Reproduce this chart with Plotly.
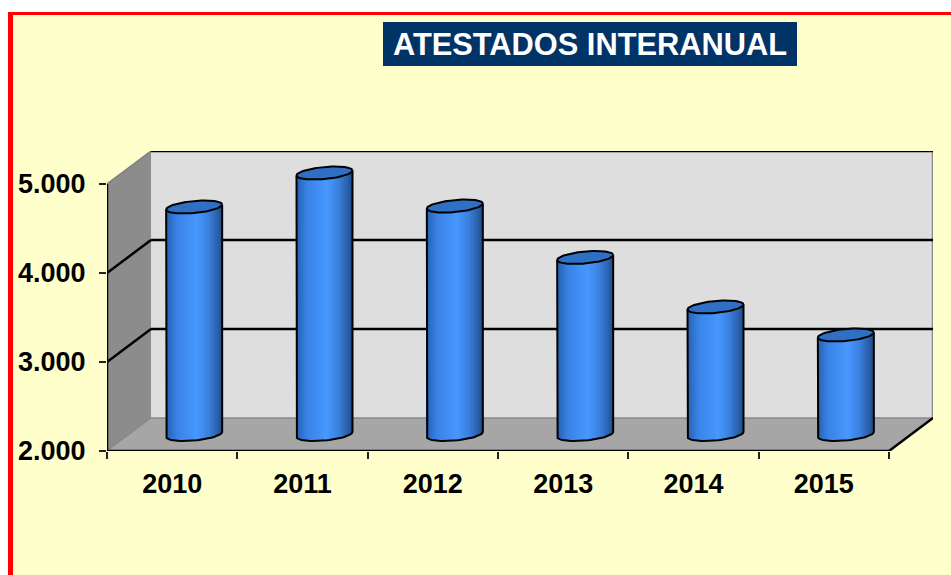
import numpy as np
import plotly.graph_objects as go

years = ["2010", "2011", "2012", "2013", "2014", "2015"]
values = [4556, 4938, 4567, 3989, 3433, 3118]
y_ticks = [2000, 3000, 4000, 5000]
y_labels = ["2.000", "3.000", "4.000", "5.000"]
title_text = "ATESTADOS INTERANUAL"

W, H = 951, 575
L, R, T, B = 107, 933, 151, 451          # plot box in page pixels
PX_X = 130.33                             # pixels per category
PX_Y = 89 / 1000                          # pixels per value unit
DX = 44 / PX_X                            # chart depth in category units
DY = 33 / PX_Y                            # chart depth in value units
Y0, Y1 = y_ticks[0], y_ticks[-1]
X0, X1 = -0.5, len(years) - 0.5
RW = 28 / PX_X                            # cylinder radius
RH = 6 / PX_Y                             # ellipse half height
TILT = 2.5 / PX_Y

def hexrgb(c):
    return [int(c[i:i + 2], 16) for i in (1, 3, 5)]

STOPS = [(-1, "#2560B0"), (-0.6, "#3A83E6"), (0.1, "#4798FF"),
         (0.5, "#3B82E0"), (0.85, "#2A60AA"), (1, "#1F4C8A")]

def shade(u):
    us = [s[0] for s in STOPS]
    rgb = [np.interp(u, us, [hexrgb(s[1])[k] for s in STOPS]) for k in range(3)]
    return "rgb(%d,%d,%d)" % tuple(rgb)

def px(x):
    return (x - L) / (R - L)

def py(y):
    return (B - y) / (B - T)

def poly(pts):
    return "M" + "L".join(f"{a},{b}" for a, b in pts) + "Z"

def seg(a, b, c, d, color="black", width=2.5):
    return dict(type="line", xref="x", yref="y", x0=a, y0=b, x1=c, y1=d,
                line=dict(color=color, width=width), layer="below")

def page_rect(x0, y0, x1, y1, color):
    return dict(type="rect", xref="paper", yref="paper", x0=px(x0), x1=px(x1),
                y0=py(y1), y1=py(y0), fillcolor=color, line=dict(width=0), layer="below")

shapes = [
    # background and frame
    page_rect(8, 12, W + 5, H + 5, "#FFFFCC"),
    page_rect(8, 12, 13, H + 5, "#FF0000"),
    page_rect(8, 12, W + 5, 15, "#FF0000"),
    # title box
    page_rect(383, 22, 797, 66, "#003366"),
    # back wall, left wall, floor
    dict(type="path", xref="x", yref="y", layer="below", fillcolor="#DEDEDE", line=dict(width=0),
         path=poly([(X0 + DX, Y0 + DY), (X1 + DX, Y0 + DY), (X1 + DX, Y1 + DY), (X0 + DX, Y1 + DY)])),
    dict(type="path", xref="x", yref="y", layer="below", fillcolor="#8C8C8C", line=dict(width=0),
         path=poly([(X0, Y0), (X0 + DX, Y0 + DY), (X0 + DX, Y1 + DY), (X0, Y1)])),
    dict(type="path", xref="x", yref="y", layer="below", fillcolor="#A6A6A6", line=dict(width=0),
         path=poly([(X0, Y0), (X1, Y0), (X1 + DX, Y0 + DY), (X0 + DX, Y0 + DY)])),
    # soft edges
    seg(X0, Y1, X0 + DX, Y1 + DY, "#7F7F7F", 1.5),
    seg(X0, Y0, X0 + DX, Y0 + DY, "#7F7F7F", 1),
    seg(X0 + DX, Y0 + DY, X1 + DX, Y0 + DY, "#8A8A8A", 1.5),
    seg(X1 + DX, Y0 + DY, X1 + DX, Y1 + DY, "#8A8A8A", 2.5),
    seg(X0 + DX, Y1 + DY, X1 + DX, Y1 + DY, "black", 2.5),
    # front axes
    seg(X0, Y0, X0, Y1),
    seg(X0, Y0, X1, Y0),
    seg(X1, Y0, X1 + DX, Y0 + DY),
]
for v in y_ticks[1:-1]:
    shapes.append(seg(X0, v, X0 + DX, v + DY))
    shapes.append(seg(X0 + DX, v + DY, X1 + DX, v + DY))

fig = go.Figure()
slices = np.linspace(-1, 1, 57)
us = (slices[:-1] + slices[1:]) / 2
sw = slices[1] - slices[0]
t = np.linspace(0, 2 * np.pi, 73)

for i, v in enumerate(values):
    cx = i + DX / 2
    by = Y0 + DY / 2
    ty = v + DY / 2
    low = by + TILT * us - RH * np.sqrt(1 - us ** 2)
    top = ty + TILT * us
    fig.add_trace(go.Bar(
        x=cx + us * RW, y=top - low, base=low, width=sw * RW * 1.02,
        marker=dict(color=[shade(u) for u in us], line=dict(width=0)),
        hoverinfo="skip", showlegend=False, name=years[i]))
    # outline of the body
    th = np.linspace(np.pi, 2 * np.pi, 37)
    ox = np.concatenate([[cx - RW], cx + RW * np.cos(th), [cx + RW]])
    oy = np.concatenate([[ty - TILT],
                         by + TILT * np.cos(th) + RH * np.sin(th),
                         [ty + TILT]])
    fig.add_trace(go.Scatter(x=ox, y=oy, mode="lines", line=dict(color="black", width=2),
                             hoverinfo="skip", showlegend=False))
    # top ellipse
    fig.add_trace(go.Scatter(x=cx + RW * np.cos(t), y=ty + TILT * np.cos(t) + RH * np.sin(t),
                             mode="lines", fill="toself", fillcolor="#2F6FC4",
                             line=dict(color="black", width=2),
                             hoverinfo="skip", showlegend=False))

font = dict(family="Liberation Sans, Arial, sans-serif", size=27, color="black", weight="bold")
fig.update_layout(
    width=W, height=H, autosize=False,
    margin=dict(l=L, r=W - R, t=T, b=H - B, pad=0),
    paper_bgcolor="white", plot_bgcolor="rgba(0,0,0,0)",
    barmode="overlay", bargap=0, showlegend=False, shapes=shapes,
    title=dict(text=title_text, x=590 / W, y=1 - 44 / H, xref="container", yref="container",
               xanchor="center", yanchor="middle",
               font=dict(family="Liberation Sans, Arial, sans-serif", size=30.8, color="white", weight="bold")),
    xaxis=dict(range=[X0, X1 + DX], showgrid=False, zeroline=False, showline=False,
               tickmode="array", tickvals=list(range(len(years))), ticktext=years,
               ticks="", tickfont=font, ticklabelstandoff=14,
               minor=dict(tickmode="array", tickvals=[X0 + k for k in range(len(years) + 1)],
                          ticks="outside", ticklen=7, tickwidth=1.5, tickcolor="#222222", showgrid=False)),
    yaxis=dict(range=[Y0, Y1 + DY], showgrid=False, zeroline=False, showline=False,
               tickmode="array", tickvals=y_ticks, ticktext=y_labels,
               ticks="outside", ticklen=7, tickwidth=1.5, tickcolor="#222222",
               tickfont=font, ticklabelstandoff=8),
)
fig.write_html("out.html", config={"displayModeBar": False},
               post_script="document.body.style.margin='0';document.body.style.overflow='hidden';")
